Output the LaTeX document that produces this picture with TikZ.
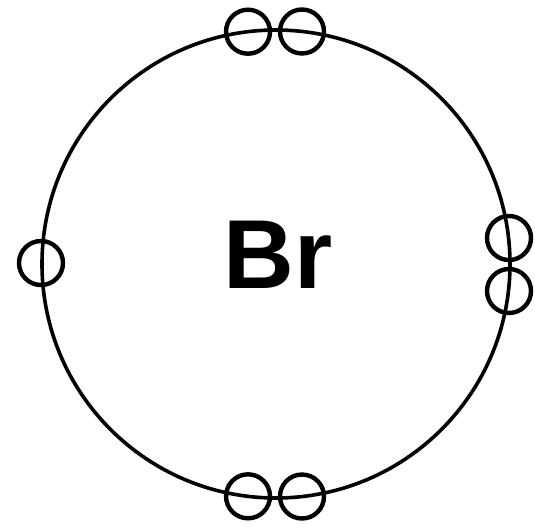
\documentclass[tikz,border=0pt]{standalone}
\usepackage{fontspec}
\setmainfont{Liberation Sans}
\begin{document}
\begin{tikzpicture}[x=1pt,y=-1pt,
  shell/.style={draw=black,line width=3.6pt},
  electron/.style={circle,draw=black,line width=4.4pt,minimum size=44pt,inner sep=0pt}]
\useasboundingbox (0,0) rectangle (535,528);
\coordinate (c) at (276,264);
\draw[shell] (c) circle[radius=234];
\node[electron] (t1) at (248,31.7) {};
\node[electron] (t2) at (302,31.5) {};
\node[electron] (b1) at (248,496.3) {};
\node[electron] (b2) at (302,496.5) {};
\node[electron] (r1) at (509,238) {};
\node[electron] (r2) at (509,291) {};
\node[electron] (l1) at (41,263) {};
\node[anchor=base,inner sep=0pt,font=\fontsize{98}{98}\selectfont\bfseries] (br) at (278,288) {Br};
\end{tikzpicture}
\end{document}
